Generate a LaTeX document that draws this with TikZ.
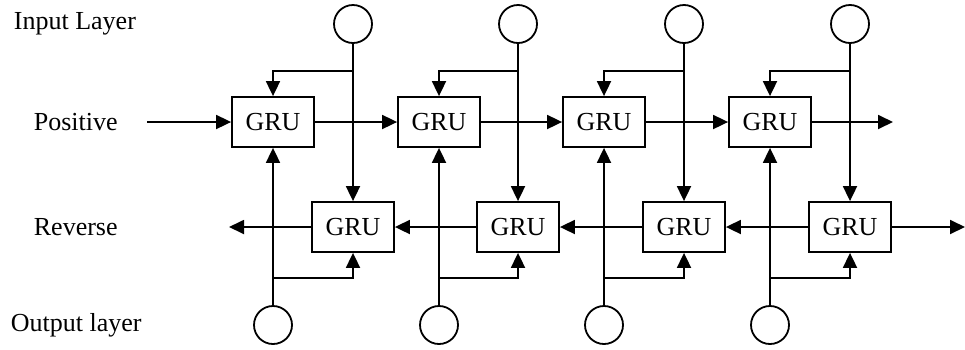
\documentclass[tikz,border=0pt]{standalone}
\usepackage{fontspec}
\setmainfont{Liberation Serif}
\usetikzlibrary{arrows.meta}
\begin{document}
\begin{tikzpicture}[x=1pt,y=-1pt,
  line width=1.8pt,
  grubox/.style={draw, minimum width=82pt, minimum height=50pt, inner sep=0pt,
    font=\fontsize{26}{30}\selectfont},
  unit/.style={draw, circle, minimum size=38pt, inner sep=0pt},
  lbl/.style={anchor=west, inner sep=0pt, font=\fontsize{26}{30}\selectfont},
  arr/.style={-{Triangle[length=15pt,width=14pt]}}]
\useasboundingbox (0,0) rectangle (965,349);

% row labels
\node[lbl] (tin)  at (13,24)  {Input Layer};
\node[lbl] (tpos) at (33,122) {Positive};
\node[lbl] (trev) at (33,227) {Reverse};
\node[lbl] (tout) at (10,325) {Output layer};

% units, GRU cells and branch points
\foreach \i/\xa/\xb in {1/273/353, 2/439/518, 3/604/684, 4/770/850} {
  \node[grubox] (f\i) at (\xa,122) {GRU};
  \node[grubox] (r\i) at (\xb,227) {GRU};
  \node[unit] (in\i) at (\xb,24) {};
  \node[unit] (out\i) at (\xa,325) {};
  \coordinate (si\i) at (\xb,71);
  \coordinate (so\i) at (\xa,278);
}

% vertical feeds
\foreach \i in {1,...,4} {
  \draw[arr] (in\i) -- (r\i.north);
  \draw[arr] (si\i) -| (f\i.north);
  \draw[arr] (out\i) -- (f\i.south);
  \draw[arr] (so\i) -| (r\i.south);
}

% forward and backward chains
\coordinate (fin)  at (147,122);
\coordinate (fend) at (893,122);
\coordinate (rend) at (229,227);
\coordinate (rout) at (965,227);
\draw[arr] (fin) -- (f1.west);
\foreach \i/\j in {1/2,2/3,3/4} {
  \draw[arr] (f\i.east) -- (f\j.west);
  \draw[arr] (r\j.west) -- (r\i.east);
}
\draw[arr] (f4.east) -- (fend);
\draw[arr] (r1.west) -- (rend);
\draw[arr] (r4.east) -- (rout);
\end{tikzpicture}
\end{document}
